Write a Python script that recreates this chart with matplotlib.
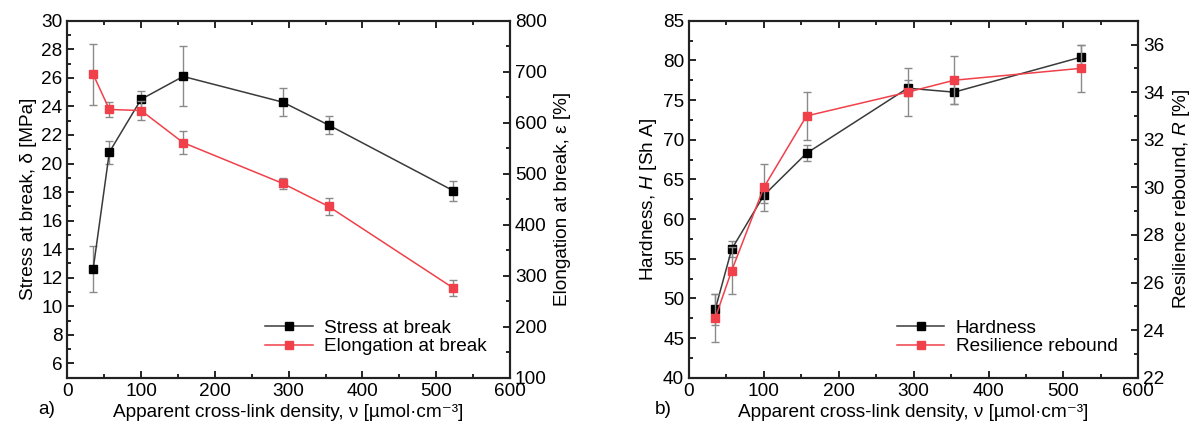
import numpy as np
import matplotlib
matplotlib.use('Agg')
import matplotlib.pyplot as plt
from matplotlib.ticker import MultipleLocator

plt.rcParams['font.family'] = ['Liberation Sans', 'DejaVu Sans']
plt.rcParams['font.size'] = 13.7
plt.rcParams['mathtext.fontset'] = 'custom'
plt.rcParams['mathtext.it'] = 'Liberation Sans:italic'
plt.rcParams['mathtext.rm'] = 'Liberation Sans'

# densidad de entrecruzamiento aparente
nu = [35, 57, 100, 157, 292, 354, 523]

# panel a)
esfuerzo = [12.6, 20.8, 24.5, 26.1, 24.3, 22.7, 18.1]
esfuerzo_err = [1.6, 0.8, 0.6, 2.1, 1.0, 0.6, 0.7]
elongacion = [695, 626, 624, 561, 481, 436, 276]
elongacion_err = [60, 15, 18, 23, 10, 17, 15]

# panel b)
dureza = [48.6, 56.2, 63.0, 68.3, 76.5, 76.0, 80.4]
dureza_err = [2.0, 1.0, 1.0, 1.0, 1.0, 1.5, 1.5]
rebote = [24.5, 26.5, 30.0, 33.0, 34.0, 34.5, 35.0]
rebote_err = [1.0, 1.0, 1.0, 1.0, 1.0, 1.0, 1.0]

negro = '#000000'
linea_negra = '#3a3a3a'
rojo = '#f0404a'
gris = '#8a8a8a'
xlab = 'Apparent cross-link density, ν [µmol·cm⁻³]'
fs = 13.7


def estilo(ax):
    ax.tick_params(which='both', direction='in', labelsize=fs, width=1.2)
    ax.tick_params(which='major', length=5)
    ax.tick_params(which='minor', length=3)
    for s in ax.spines.values():
        s.set_linewidth(1.5)
        s.set_color('#222222')


def serie(ax, x, y, err, color_m, color_l, etiqueta):
    ax.errorbar(x, y, yerr=err, fmt='none', ecolor=gris, elinewidth=1,
                capsize=3, capthick=1, zorder=2)
    h, = ax.plot(x, y, color=color_l, lw=1.1, marker='s', markersize=6,
                 markerfacecolor=color_m, markeredgecolor=color_m,
                 label=etiqueta, zorder=3)
    return h


fig = plt.figure(figsize=(12.02, 4.28), dpi=100)

#%% panel a
ax1 = fig.add_axes([0.056, 0.1175, 0.3683, 0.834])
ax2 = ax1.twinx()
h1 = serie(ax1, nu, esfuerzo, esfuerzo_err, negro, linea_negra, 'Stress at break')
h2 = serie(ax2, nu, elongacion, elongacion_err, rojo, rojo, 'Elongation at break')
ax1.set_xlim(0, 600)
ax1.set_ylim(5, 30)
ax2.set_ylim(100, 800)
ax1.xaxis.set_major_locator(MultipleLocator(100))
ax1.xaxis.set_minor_locator(MultipleLocator(50))
ax1.set_yticks(np.arange(6, 31, 2))
ax1.yaxis.set_minor_locator(MultipleLocator(1))
ax2.yaxis.set_major_locator(MultipleLocator(100))
ax2.yaxis.set_minor_locator(MultipleLocator(50))
estilo(ax1)
estilo(ax2)
ax1.tick_params(which='both', top=True)
ax1.set_xlabel(xlab, labelpad=3)
ax1.set_ylabel('Stress at break, δ [MPa]', labelpad=3)
ax2.set_ylabel('Elongation at break, ε [%]', labelpad=5)
ax2.legend(handles=[h1, h2], loc='lower right', bbox_to_anchor=(0.982, 0.02),
           frameon=False, fontsize=fs, handlelength=2.5, handletextpad=0.6,
           labelspacing=0.05, borderaxespad=0.4, markerscale=0.85)

#%% panel b
ax3 = fig.add_axes([0.5732, 0.1175, 0.3738, 0.834])
ax4 = ax3.twinx()
h3 = serie(ax3, nu, dureza, dureza_err, negro, linea_negra, 'Hardness')
h4 = serie(ax4, nu, rebote, rebote_err, rojo, rojo, 'Resilience rebound')
ax3.set_xlim(0, 600)
ax3.set_ylim(40, 85)
ax4.set_ylim(22, 37)
ax3.xaxis.set_major_locator(MultipleLocator(100))
ax3.xaxis.set_minor_locator(MultipleLocator(50))
ax3.yaxis.set_major_locator(MultipleLocator(5))
ax3.yaxis.set_minor_locator(MultipleLocator(2.5))
ax4.set_yticks(np.arange(22, 37, 2))
ax4.yaxis.set_minor_locator(MultipleLocator(1))
estilo(ax3)
estilo(ax4)
ax3.tick_params(which='both', top=True)
ax3.set_xlabel(xlab, labelpad=3)
ax3.set_ylabel('Hardness, $H$ [Sh A]', labelpad=3)
ax4.set_ylabel('Resilience rebound, $R$ [%]', labelpad=5)
ax4.legend(handles=[h3, h4], loc='lower right', bbox_to_anchor=(0.988, 0.02),
           frameon=False, fontsize=fs, handlelength=2.5, handletextpad=0.6,
           labelspacing=0.05, borderaxespad=0.4, markerscale=0.85)

fig.text(38 / 1202, 1 - 410 / 428, 'a)', fontsize=fs, va='center')
fig.text(655 / 1202, 1 - 410 / 428, 'b)', fontsize=fs, va='center')

fig.savefig('out.png', dpi=100)
